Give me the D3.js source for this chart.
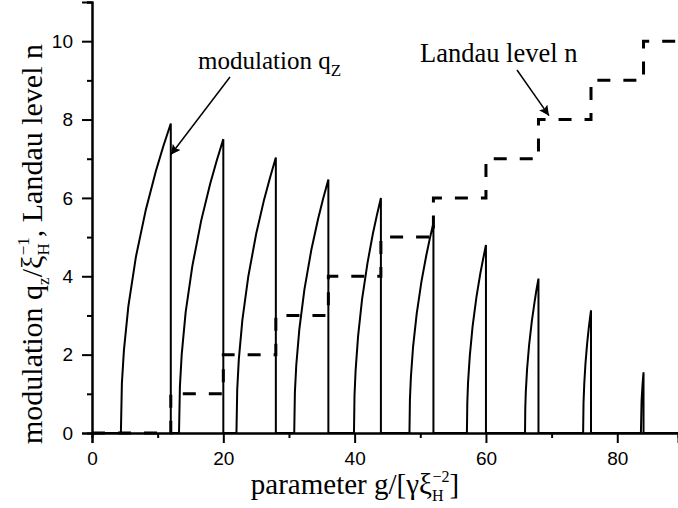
<!DOCTYPE html>
<html>
<head>
<meta charset="utf-8">
<script src="https://cdn.jsdelivr.net/npm/d3@7"></script>
<style>
  html, body { margin: 0; padding: 0; background: #fff; }
  svg { display: block; }
</style>
</head>
<body>
<svg id="chart" width="678" height="508"></svg>
<script>
// ---- data ----
// modulation q_z / xi_H^-1 : one rising branch per interval, each ending at a Landau-level jump
const arc1  = [[4.4,0],[4.55,1.26],[4.86,2.11],[5.54,3.24],[6.68,4.49],[8.2,5.70],[9.72,6.68],[10.86,7.32],[12.0,7.9]];
const arc2  = [[13.25,0],[13.39,1.19],[13.66,2.0],[14.26,3.08],[15.28,4.26],[16.63,5.42],[17.98,6.35],[18.99,6.95],[20.0,7.5]];
const arc3  = [[22.0,0],[22.12,1.12],[22.36,1.88],[22.9,2.88],[23.8,3.99],[25.0,5.08],[26.2,5.95],[27.1,6.51],[28.0,7.03]];
const arc4  = [[30.8,0],[30.9,1.03],[31.11,1.73],[31.58,2.65],[32.36,3.67],[33.4,4.67],[34.44,5.47],[35.22,5.99],[36.0,6.47]];
const arc5  = [[39.9,0],[39.98,0.95],[40.15,1.6],[40.52,2.46],[41.13,3.41],[41.95,4.33],[42.77,5.08],[43.39,5.56],[44.0,6.0]];
const arc6  = [[48.35,0],[48.42,0.85],[48.57,1.43],[48.9,2.2],[49.45,3.04],[50.18,3.87],[50.91,4.53],[51.45,4.96],[52.0,5.36]];
const arc7  = [[57.1,0],[57.16,0.76],[57.27,1.28],[57.54,1.97],[57.97,2.73],[58.55,3.47],[59.13,4.06],[59.57,4.44],[60.0,4.8]];
const arc8  = [[65.95,0],[65.99,0.63],[66.07,1.05],[66.26,1.62],[66.57,2.24],[66.98,2.84],[67.39,3.33],[67.69,3.65],[68.0,3.94]];
const arc9  = [[74.8,0],[74.86,0.77],[74.98,1.28],[75.16,1.78],[75.4,2.26],[75.64,2.65],[75.82,2.90],[76.0,3.13]];
const arc10 = [[83.6,0],[83.7,0.81],[83.8,1.1],[83.9,1.35],[84.0,1.55]];
const arcs = [arc1, arc2, arc3, arc4, arc5, arc6, arc7, arc8, arc9, arc10];

// Landau level n (step function)
const landauG = [0, 12, 20, 28, 36, 44, 52, 60, 68, 76, 84, 89.25];
const landauN = [0, 1, 2, 3, 4, 5, 6, 7, 8, 9, 10, 10];

// axes
const xDomain = [0, 89.25];
const yDomain = [0, 11];
const xMajorTicks = [0, 20, 40, 60, 80];
const xMinorTicks = [10, 30, 50, 70];
const yMajorTicks = [0, 2, 4, 6, 8, 10];
const yMinorTicks = [1, 3, 5, 7, 9, 11];

// ---- drawing ----
const svg = d3.select("#chart");
const x = d3.scaleLinear().domain(xDomain).range([92, 678]);
const y = d3.scaleLinear().domain(yDomain).range([433, 2]);

const serif = "'Liberation Serif','Times New Roman',Times,serif";
const sans = "'Liberation Sans',Arial,Helvetica,sans-serif";

// build q_z series: zero baseline between branches, vertical drop after each branch
const qSeries = [[0, 0]];
arcs.forEach(a => {
  a.forEach(p => qSeries.push(p));
  qSeries.push([a[a.length - 1][0], 0]);
});
qSeries.push([xDomain[1], 0]);

const line = d3.line().x(d => x(d[0])).y(d => y(d[1]));

svg.append("path")
  .datum(qSeries)
  .attr("d", line)
  .attr("fill", "none")
  .attr("stroke", "#000")
  .attr("stroke-width", 2)
  .attr("stroke-linejoin", "miter");

const landau = landauG.map((g, i) => [g, landauN[i]]);
svg.append("path")
  .datum(landau)
  .attr("d", d3.line().x(d => x(d[0])).y(d => y(d[1])).curve(d3.curveStepAfter))
  .attr("fill", "none")
  .attr("stroke", "#000")
  .attr("stroke-width", 3)
  .attr("stroke-dasharray", "13,13");

// axes
function styleAxis(g) {
  g.selectAll(".domain").attr("stroke", "#000").attr("stroke-width", 2);
  g.selectAll(".tick line").attr("stroke", "#000").attr("stroke-width", 2);
  g.selectAll("text").attr("fill", "#000").attr("font-family", sans).attr("font-size", 19);
}

const xMinor = svg.append("g").attr("transform", "translate(0,433)")
  .call(d3.axisBottom(x).tickValues(xMinorTicks).tickSize(5).tickFormat(""));
styleAxis(xMinor);
const xMajor = svg.append("g").attr("transform", "translate(0,433)")
  .call(d3.axisBottom(x).tickValues(xMajorTicks).tickSize(10).tickPadding(8).tickFormat(d3.format("d")));
styleAxis(xMajor);
xMajor.selectAll("text").attr("dy", "0.72em");

const yMinor = svg.append("g").attr("transform", "translate(92,0)")
  .call(d3.axisLeft(y).tickValues(yMinorTicks).tickSize(5).tickFormat(""));
styleAxis(yMinor);
const yMajor = svg.append("g").attr("transform", "translate(92,0)")
  .call(d3.axisLeft(y).tickValues(yMajorTicks).tickSize(10).tickPadding(9).tickFormat(d3.format("d")));
styleAxis(yMajor);

// x-axis title
const xt = svg.append("text")
  .attr("x", 355).attr("y", 494)
  .attr("text-anchor", "middle")
  .attr("font-family", serif).attr("font-size", 29).attr("fill", "#000");
xt.append("tspan").text("parameter g/[γξ");
xt.append("tspan").attr("font-size", 16).attr("dy", 7).text("H");
xt.append("tspan").attr("font-size", 16).attr("dx", -11).attr("dy", -19).text("−2");
xt.append("tspan").attr("dy", 12).text("]");

// y-axis title
const yt = svg.append("text")
  .attr("transform", "translate(42,244) rotate(-90)")
  .attr("text-anchor", "middle")
  .attr("font-family", serif).attr("font-size", 30).attr("fill", "#000");
yt.append("tspan").text("modulation q");
yt.append("tspan").attr("font-size", 17).attr("dy", 7).text("z");
yt.append("tspan").attr("dy", -7).text("/ξ");
yt.append("tspan").attr("font-size", 17).attr("dy", 7).text("H");
yt.append("tspan").attr("font-size", 17).attr("dx", -12).attr("dy", -20).text("−1");
yt.append("tspan").attr("dy", 13).text(", Landau level n");

// annotations
const defs = svg.append("defs");
defs.append("marker")
  .attr("id", "arrow")
  .attr("viewBox", "0 0 10 10")
  .attr("refX", 10).attr("refY", 5)
  .attr("markerWidth", 10).attr("markerHeight", 10)
  .attr("markerUnits", "userSpaceOnUse")
  .attr("orient", "auto")
  .append("path").attr("d", "M0,0 L10,5 L0,10 L2,5 Z").attr("fill", "#000");

const a1 = svg.append("text")
  .attr("x", 198).attr("y", 69)
  .attr("font-family", serif).attr("font-size", 25).attr("fill", "#000");
a1.append("tspan").text("modulation q");
a1.append("tspan").attr("font-size", 17).attr("dy", 7).text("Z");

svg.append("line")
  .attr("x1", 230).attr("y1", 77)
  .attr("x2", x(12)).attr("y2", y(7.1))
  .attr("stroke", "#000").attr("stroke-width", 1.5)
  .attr("marker-end", "url(#arrow)");

svg.append("text")
  .attr("x", 420).attr("y", 62)
  .attr("font-family", serif).attr("font-size", 26.5).attr("fill", "#000")
  .text("Landau level n");

svg.append("line")
  .attr("x1", 517).attr("y1", 70)
  .attr("x2", x(69.6)).attr("y2", y(8.1))
  .attr("stroke", "#000").attr("stroke-width", 1.5)
  .attr("marker-end", "url(#arrow)");
</script>
</body>
</html>
